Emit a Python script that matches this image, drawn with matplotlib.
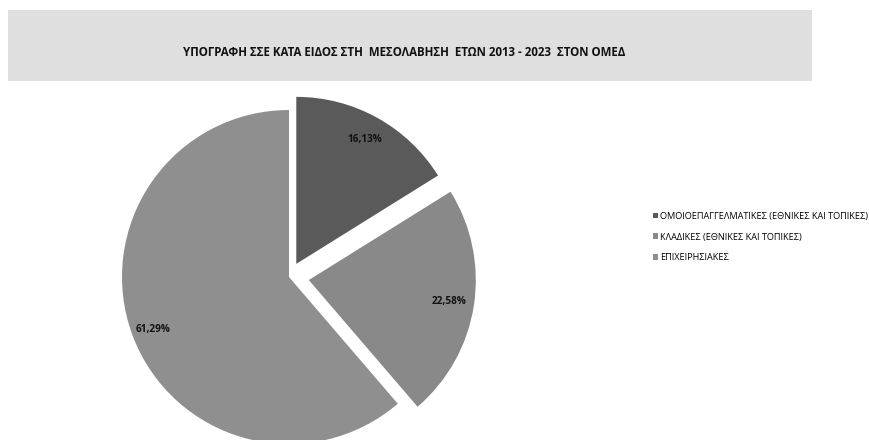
import numpy as np
import matplotlib
matplotlib.use('Agg')
import matplotlib.pyplot as plt
from matplotlib.patches import Rectangle

plt.rcParams['font.family'] = ['Open Sans', 'Noto Sans', 'DejaVu Sans']

# δεδομένα
title = 'ΥΠΟΓΡΑΦΗ ΣΣΕ ΚΑΤΑ ΕΙΔΟΣ ΣΤΗ  ΜΕΣΟΛΑΒΗΣΗ  ΕΤΩΝ 2013 - 2023  ΣΤΟΝ ΟΜΕΔ'
categories = ['ΟΜΟΙΟΕΠΑΓΓΕΛΜΑΤΙΚΕΣ (ΕΘΝΙΚΕΣ ΚΑΙ ΤΟΠΙΚΕΣ)',
              'ΚΛΑΔΙΚΕΣ (ΕΘΝΙΚΕΣ ΚΑΙ ΤΟΠΙΚΕΣ)',
              'ΕΠΙΧΕΙΡΗΣΙΑΚΕΣ']
values = [16.13, 22.58, 61.29]
colors = ['#5a5a5a', '#898989', '#8f8f8f']
explode = [0.09, 0.12, 0.0]

W, H = 869, 440
fig = plt.figure(figsize=(W / 100, H / 100), dpi=100)

# γκρι πλαίσιο τίτλου
fig.patches.append(Rectangle((8 / W, 1 - 81 / H), 804 / W, 71 / H,
                             transform=fig.transFigure, facecolor='#dfdfdf',
                             edgecolor='none', zorder=0))
fig.text(404 / W, 1 - 53 / H, title, ha='center', va='center',
         fontsize=8.3, fontweight='bold', color='#111111')

# pie: ακτίνα 167 px, κέντρο (289, 277)
r_px = 167
lim = 1.3
side = 2 * lim * r_px
cx, cy = 289, 277
ax = fig.add_axes([(cx - side / 2) / W, (H - cy - side / 2) / H, side / W, side / H])
wedges, texts, autotexts = ax.pie(values, colors=colors, explode=explode,
                                  startangle=90, counterclock=False,
                                  autopct=lambda p: f'{p:.2f}%'.replace('.', ','),
                                  pctdistance=0.85,
                                  textprops=dict(fontsize=7.2, fontweight='bold', color='#111111'))
ax.set_xlim(-lim, lim)
ax.set_ylim(-lim, lim)
ax.set_aspect('equal')
ax.axis('off')

# ετικέτα μεγάλου τμήματος πιο χαμηλά (όπως στο Excel)
ang = np.deg2rad(201)
ctr = wedges[2].center
autotexts[2].set_position((ctr[0] + 0.87 * np.cos(ang), ctr[1] + 0.87 * np.sin(ang)))

fig.legend(wedges, categories, loc='center left',
           bbox_to_anchor=(649 / W, 1 - 237 / H), frameon=False,
           fontsize=6.6, handlelength=0.55, handleheight=0.55, handletextpad=0.3,
           labelspacing=1.3, borderaxespad=0)

plt.savefig('out.png', dpi=100)
